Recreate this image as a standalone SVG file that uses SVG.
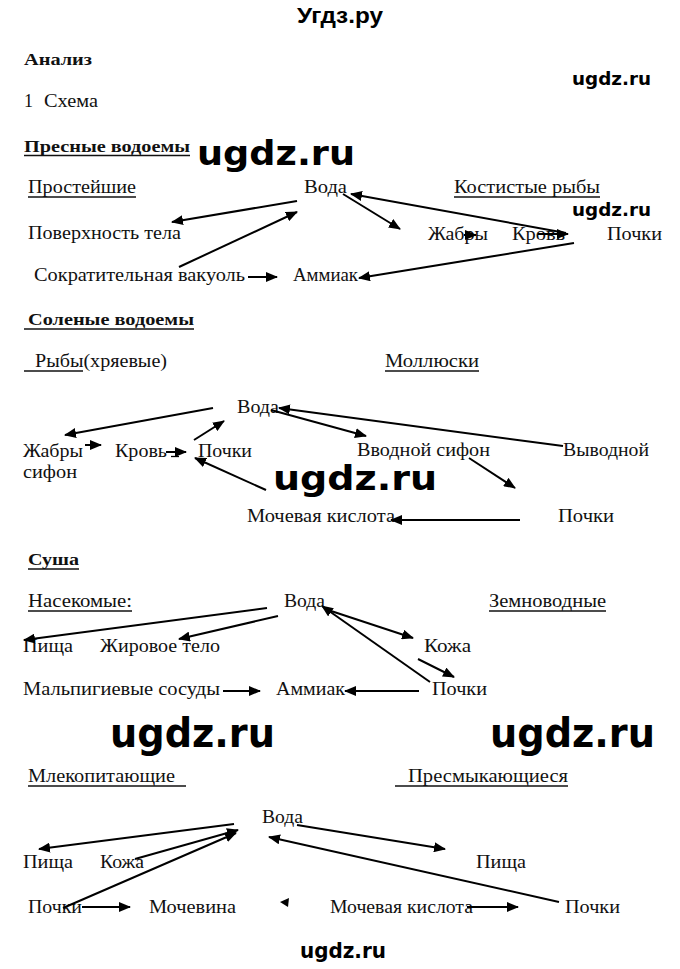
<svg xmlns="http://www.w3.org/2000/svg" width="680" height="969" viewBox="0 0 680 969">
<style>
.t{font-family:"Liberation Serif","DejaVu Serif","Times New Roman",serif;font-size:18px;font-weight:normal;font-style:normal;fill:#111}
.b{font-family:"Liberation Serif","DejaVu Serif","Times New Roman",serif;font-size:16px;font-weight:bold;fill:#111}
.w{font-family:"DejaVu Sans",sans-serif;font-weight:bold;fill:#000}
.h{font-family:"Liberation Sans",Arial,sans-serif;font-weight:bold;font-size:22px;fill:#000}
.u{stroke:#111;stroke-width:1.3}
.a{stroke:#000;stroke-width:2;fill:none;marker-end:url(#ah)}
</style>
<defs>
<marker id="ah" markerUnits="userSpaceOnUse" markerWidth="12" markerHeight="10" refX="11" refY="5" orient="auto">
<path d="M0,0 L12,5 L0,10 z" fill="#000"/>
</marker>
</defs>
<rect width="680" height="969" fill="#fff"/>

<g id="header">
<text class="h" x="297" y="23" textLength="86" lengthAdjust="spacingAndGlyphs">Угдз.ру</text>
<text class="b" x="24" y="65" textLength="68" lengthAdjust="spacingAndGlyphs">Анализ</text>
<text class="t" x="24" y="107">1</text>
<text class="t" x="44" y="107" textLength="54" lengthAdjust="spacingAndGlyphs">Схема</text>
</g>

<g id="watermarks">
<text class="w" x="572" y="85" font-size="18" textLength="79" lengthAdjust="spacingAndGlyphs">ugdz.ru</text>
<text class="w" x="197" y="165" font-size="33" textLength="158" lengthAdjust="spacingAndGlyphs">ugdz.ru</text>
<text class="w" x="572" y="216" font-size="18" textLength="79" lengthAdjust="spacingAndGlyphs">ugdz.ru</text>
<text class="w" x="273" y="490" font-size="33" textLength="164" lengthAdjust="spacingAndGlyphs">ugdz.ru</text>
<text class="w" x="110" y="747" font-size="40" textLength="165" lengthAdjust="spacingAndGlyphs">ugdz.ru</text>
<text class="w" x="490" y="747" font-size="40" textLength="165" lengthAdjust="spacingAndGlyphs">ugdz.ru</text>
<text class="w" x="300" y="958" font-size="21" textLength="86" lengthAdjust="spacingAndGlyphs">ugdz.ru</text>
</g>

<!-- Section 1 -->
<g id="s1-heading"><text class="b" x="24" y="152" textLength="166" lengthAdjust="spacingAndGlyphs">Пресные водоемы</text><line class="u" x1="24" y1="155.5" x2="190" y2="155.5"/></g>
<g id="s1-prosteishie"><text class="t" x="28" y="193" textLength="108" lengthAdjust="spacingAndGlyphs">Простейшие</text><line class="u" x1="28" y1="197" x2="136" y2="197"/></g>
<g id="s1-voda"><text class="t" x="304" y="193" textLength="43" lengthAdjust="spacingAndGlyphs">Вода</text></g>
<g id="s1-kostistye"><text class="t" x="454" y="193" textLength="146" lengthAdjust="spacingAndGlyphs">Костистые рыбы</text><line class="u" x1="454" y1="197" x2="600" y2="197"/></g>
<g id="s1-poverhnost"><text class="t" x="28" y="239" textLength="153" lengthAdjust="spacingAndGlyphs">Поверхность тела</text></g>
<g id="s1-zhabry"><text class="t" x="428" y="240" textLength="60" lengthAdjust="spacingAndGlyphs">Жабры</text></g>
<g id="s1-krov"><text class="t" x="512" y="240" textLength="53" lengthAdjust="spacingAndGlyphs">Кровь</text></g>
<g id="s1-pochki"><text class="t" x="607" y="240" textLength="55" lengthAdjust="spacingAndGlyphs">Почки</text></g>
<g id="s1-vakuol"><text class="t" x="34" y="281" textLength="211" lengthAdjust="spacingAndGlyphs">Сократительная вакуоль</text></g>
<g id="s1-ammiak"><text class="t" x="293" y="281" textLength="65" lengthAdjust="spacingAndGlyphs">Аммиак</text></g>

<!-- Section 2 -->
<g id="s2-heading"><text class="b" x="28" y="325" textLength="166" lengthAdjust="spacingAndGlyphs">Соленые водоемы</text><line class="u" x1="24" y1="329" x2="194" y2="329"/></g>
<g id="s2-ryby"><text class="t" x="35" y="367" textLength="132" lengthAdjust="spacingAndGlyphs">Рыбы(хряевые)</text><line class="u" x1="24" y1="371" x2="83" y2="371"/></g>
<g id="s2-mollyuski"><text class="t" x="385" y="367" textLength="94" lengthAdjust="spacingAndGlyphs">Моллюски</text><line class="u" x1="385" y1="371" x2="479" y2="371"/></g>
<g id="s2-voda"><text class="t" x="237" y="413" textLength="42" lengthAdjust="spacingAndGlyphs">Вода</text></g>
<g id="s2-zhabry"><text class="t" x="23" y="457" textLength="60" lengthAdjust="spacingAndGlyphs">Жабры</text><text class="t" x="23" y="478" textLength="54" lengthAdjust="spacingAndGlyphs">сифон</text></g>
<g id="s2-krov"><text class="t" x="115" y="457" textLength="52" lengthAdjust="spacingAndGlyphs">Кровь</text></g>
<g id="s2-pochki"><text class="t" x="198" y="457" textLength="54" lengthAdjust="spacingAndGlyphs">Почки</text></g>
<g id="s2-vvodnoi"><text class="t" x="357" y="456" textLength="133" lengthAdjust="spacingAndGlyphs">Вводной сифон</text></g>
<g id="s2-vyvodnoi"><text class="t" x="563" y="456" textLength="86" lengthAdjust="spacingAndGlyphs">Выводной</text></g>
<g id="s2-kislota"><text class="t" x="247" y="522" textLength="148" lengthAdjust="spacingAndGlyphs">Мочевая кислота</text></g>
<g id="s2-pochki2"><text class="t" x="558" y="522" textLength="56" lengthAdjust="spacingAndGlyphs">Почки</text></g>

<!-- Section 3 -->
<g id="s3-heading"><text class="b" x="28" y="565" textLength="51" lengthAdjust="spacingAndGlyphs">Суша</text><line class="u" x1="28" y1="569" x2="79" y2="569"/></g>
<g id="s3-nasekomye"><text class="t" x="28" y="607" textLength="104" lengthAdjust="spacingAndGlyphs">Насекомые:</text><line class="u" x1="28" y1="611" x2="132" y2="611"/></g>
<g id="s3-voda"><text class="t" x="284" y="607" textLength="41" lengthAdjust="spacingAndGlyphs">Вода</text></g>
<g id="s3-zemnovodnye"><text class="t" x="489" y="607" textLength="117" lengthAdjust="spacingAndGlyphs">Земноводные</text><line class="u" x1="489" y1="611" x2="606" y2="611"/></g>
<g id="s3-pishcha"><text class="t" x="23" y="652" textLength="50" lengthAdjust="spacingAndGlyphs">Пища</text></g>
<g id="s3-zhirovoe"><text class="t" x="100" y="652" textLength="120" lengthAdjust="spacingAndGlyphs">Жировое тело</text></g>
<g id="s3-kozha"><text class="t" x="424" y="652" textLength="47" lengthAdjust="spacingAndGlyphs">Кожа</text></g>
<g id="s3-malpigievy"><text class="t" x="23" y="695" textLength="197" lengthAdjust="spacingAndGlyphs">Мальпигиевые сосуды</text></g>
<g id="s3-ammiak"><text class="t" x="276" y="695" textLength="69" lengthAdjust="spacingAndGlyphs">Аммиак</text></g>
<g id="s3-pochki"><text class="t" x="432" y="695" textLength="55" lengthAdjust="spacingAndGlyphs">Почки</text></g>

<!-- Section 4 -->
<g id="s4-mlekopit"><text class="t" x="28" y="782" textLength="147" lengthAdjust="spacingAndGlyphs">Млекопитающие</text><line class="u" x1="28" y1="786" x2="186" y2="786"/></g>
<g id="s4-presmyk"><text class="t" x="408" y="782" textLength="160" lengthAdjust="spacingAndGlyphs">Пресмыкающиеся</text><line class="u" x1="395" y1="786" x2="568" y2="786"/></g>
<g id="s4-voda"><text class="t" x="262" y="823" textLength="41" lengthAdjust="spacingAndGlyphs">Вода</text></g>
<g id="s4-pishcha"><text class="t" x="23" y="868" textLength="50" lengthAdjust="spacingAndGlyphs">Пища</text></g>
<g id="s4-kozha"><text class="t" x="100" y="868" textLength="44" lengthAdjust="spacingAndGlyphs">Кожа</text></g>
<g id="s4-pishcha2"><text class="t" x="476" y="868" textLength="50" lengthAdjust="spacingAndGlyphs">Пища</text></g>
<g id="s4-pochki"><text class="t" x="28" y="913" textLength="54" lengthAdjust="spacingAndGlyphs">Почки</text></g>
<g id="s4-mochevina"><text class="t" x="149" y="913" textLength="87" lengthAdjust="spacingAndGlyphs">Мочевина</text></g>
<g id="s4-kislota"><text class="t" x="330" y="913" textLength="143" lengthAdjust="spacingAndGlyphs">Мочевая кислота</text></g>
<g id="s4-pochki2"><text class="t" x="565" y="913" textLength="55" lengthAdjust="spacingAndGlyphs">Почки</text></g>

<g id="connectors">
<!-- section 1 -->
<line class="a" x1="297" y1="201" x2="172" y2="222"/>
<line class="a" x1="179" y1="267" x2="297" y2="212"/>
<line class="a" x1="343" y1="194" x2="400" y2="229"/>
<line class="a" x1="566" y1="233" x2="351" y2="194"/>
<line class="a" x1="574" y1="243" x2="359" y2="278"/>
<line class="a" x1="248" y1="277" x2="277" y2="277"/>
<line class="a" x1="464" y1="235" x2="476" y2="235"/>
<line class="a" x1="538" y1="234" x2="568" y2="234"/>
<!-- section 2 -->
<line class="a" x1="213" y1="408" x2="65" y2="435"/>
<line class="a" x1="194" y1="440" x2="224" y2="421"/>
<line class="a" x1="271" y1="410" x2="366" y2="436"/>
<line class="a" x1="563" y1="446" x2="279" y2="408"/>
<line class="a" x1="469" y1="458" x2="515" y2="488"/>
<line class="a" x1="266" y1="490" x2="195" y2="458"/>
<line class="a" x1="520" y1="520" x2="391" y2="520"/>
<line class="a" x1="85" y1="445" x2="101" y2="445"/>
<line class="a" x1="166" y1="452" x2="186" y2="452"/>
<line stroke="#000" stroke-width="1.3" x1="171" y1="456.5" x2="179" y2="456.5"/>
<!-- section 3 -->
<line class="a" x1="267" y1="608" x2="24" y2="640"/>
<line class="a" x1="278" y1="616" x2="179" y2="639"/>
<line class="a" x1="325" y1="609" x2="413" y2="638"/>
<line class="a" x1="430" y1="682" x2="322" y2="606"/>
<line class="a" x1="418" y1="659" x2="454" y2="677"/>
<line class="a" x1="419" y1="691" x2="345" y2="691"/>
<line class="a" x1="223" y1="691" x2="260" y2="691"/>
<!-- section 4 -->
<line class="a" x1="234" y1="824" x2="39" y2="849"/>
<line class="a" x1="135" y1="859" x2="238" y2="830"/>
<line class="a" x1="63" y1="908" x2="236" y2="833"/>
<line class="a" x1="297" y1="825" x2="445" y2="849"/>
<line class="a" x1="559" y1="902" x2="269" y2="837"/>
<line class="a" x1="82" y1="907" x2="130" y2="907"/>
<line class="a" x1="467" y1="907" x2="518" y2="907"/>
<path d="M280,902 L289,898 L288,907 z" fill="#000"/>
</g>
</svg>
